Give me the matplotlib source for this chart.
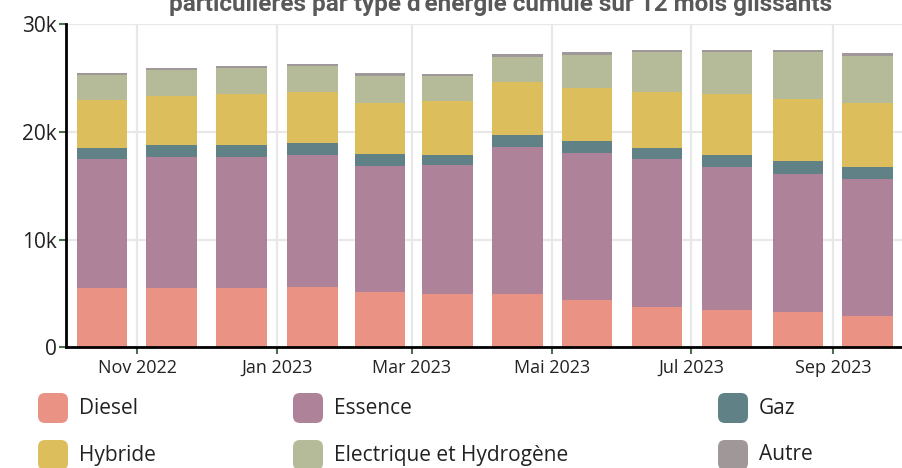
import numpy as np
import pandas as pd
import matplotlib
matplotlib.use("Agg")
import matplotlib.pyplot as plt
import matplotlib.dates as mdates
from matplotlib.patches import FancyBboxPatch
from matplotlib.transforms import IdentityTransform

# monthly data, cumulated over 12 rolling months
months = ['2022-10', '2022-11', '2022-12', '2023-01', '2023-02', '2023-03',
          '2023-04', '2023-05', '2023-06', '2023-07', '2023-08', '2023-09']
diesel = [5550, 5550, 5520, 5640, 5150, 4990, 4960, 4410, 3760, 3450, 3270, 2950]
essence = [11940, 12150, 12180, 12220, 11660, 11910, 13670, 13600, 13730, 13320, 12820, 12680]
gaz = [1040, 1080, 1110, 1140, 1170, 1000, 1110, 1150, 1040, 1090, 1240, 1140]
hybride = [4400, 4580, 4680, 4670, 4730, 4960, 4920, 4880, 5170, 5630, 5750, 5940]
electrique = [2380, 2350, 2410, 2470, 2500, 2350, 2260, 3070, 3680, 3920, 4330, 4360]
autre = [180, 190, 180, 190, 230, 180, 280, 270, 190, 190, 190, 280]

series_names = ['Diesel', 'Essence', 'Gaz', 'Hybride', 'Electrique et Hydrogène', 'Autre']
series_values = [diesel, essence, gaz, hybride, electrique, autre]
colors = ['#EA9284', '#AE8298', '#608286', '#DCBE5C', '#B5BA98', '#A09898']

tick_dates = ['2022-11-01', '2023-01-01', '2023-03-01', '2023-05-01', '2023-07-01', '2023-09-01']
tick_labels = ['Nov 2022', 'Jan 2023', 'Mar 2023', 'Mai 2023', 'Jul 2023', 'Sep 2023']

title = "particulières par type d'énergie cumulé sur 12 mois glissants"

W, H = 902, 468

# bars sit in the middle of each month
starts = pd.to_datetime(months)
ends = starts + pd.offsets.MonthBegin(1)
centers = starts + (ends - starts) / 2
x = mdates.date2num(centers.to_pydatetime())

fig = plt.figure(figsize=(W / 100, H / 100), dpi=100)
ax = fig.add_axes([0.0735, 0.2575, 0.9265, 0.691])

bottom = np.zeros(len(months))
for name, vals, col in zip(series_names, series_values, colors):
    ax.bar(x, vals, width=22, bottom=bottom, color=col, label=name, zorder=2)
    bottom += np.array(vals)

ax.set_xlim(mdates.date2num(pd.Timestamp('2022-10-01')),
            mdates.date2num(pd.Timestamp('2023-10-01')))
ax.set_ylim(0, 30000)

ax.set_xticks(mdates.date2num(pd.to_datetime(tick_dates).to_pydatetime()))
ax.set_xticklabels(tick_labels, fontsize=13, family='Open Sans', color='#222222')
ax.set_yticks([0, 10000, 20000, 30000])
ax.set_yticklabels(['0', '10k', '20k', '30k'], fontsize=15, family='Open Sans', color='#222222')

ax.tick_params(axis='both', direction='out', length=5, width=1.5, color='#4f6e4f')
ax.tick_params(axis='x', pad=3)
ax.tick_params(axis='y', pad=2)
ax.grid(True, color='#e8e8e8', linewidth=1.6, zorder=0)
ax.set_axisbelow(True)

for side in ['top', 'right']:
    ax.spines[side].set_visible(False)
for side in ['left', 'bottom']:
    ax.spines[side].set_color('black')
    ax.spines[side].set_linewidth(2)

fig.text(501 / W, 1 - 11 / H, title, ha='center', va='baseline',
         fontsize=17.5, fontweight='bold', family='Roboto', color='#595959')

# legend drawn by hand, two rows of three
col_x = [38, 293, 718]
row_y = [408, 455]
for i, (name, col) in enumerate(zip(series_names, colors)):
    cx = col_x[i % 3]
    cy = row_y[i // 3]
    patch = FancyBboxPatch((cx, H - cy - 15), 30, 30,
                           boxstyle='round,pad=0,rounding_size=7',
                           transform=IdentityTransform(), facecolor=col, edgecolor='none')
    fig.patches.append(patch)
    fig.text((cx + 41) / W, 1 - cy / H, name, ha='left', va='center',
             fontsize=15, family='Open Sans', color='#222222')

fig.savefig('out.png', dpi=100)
